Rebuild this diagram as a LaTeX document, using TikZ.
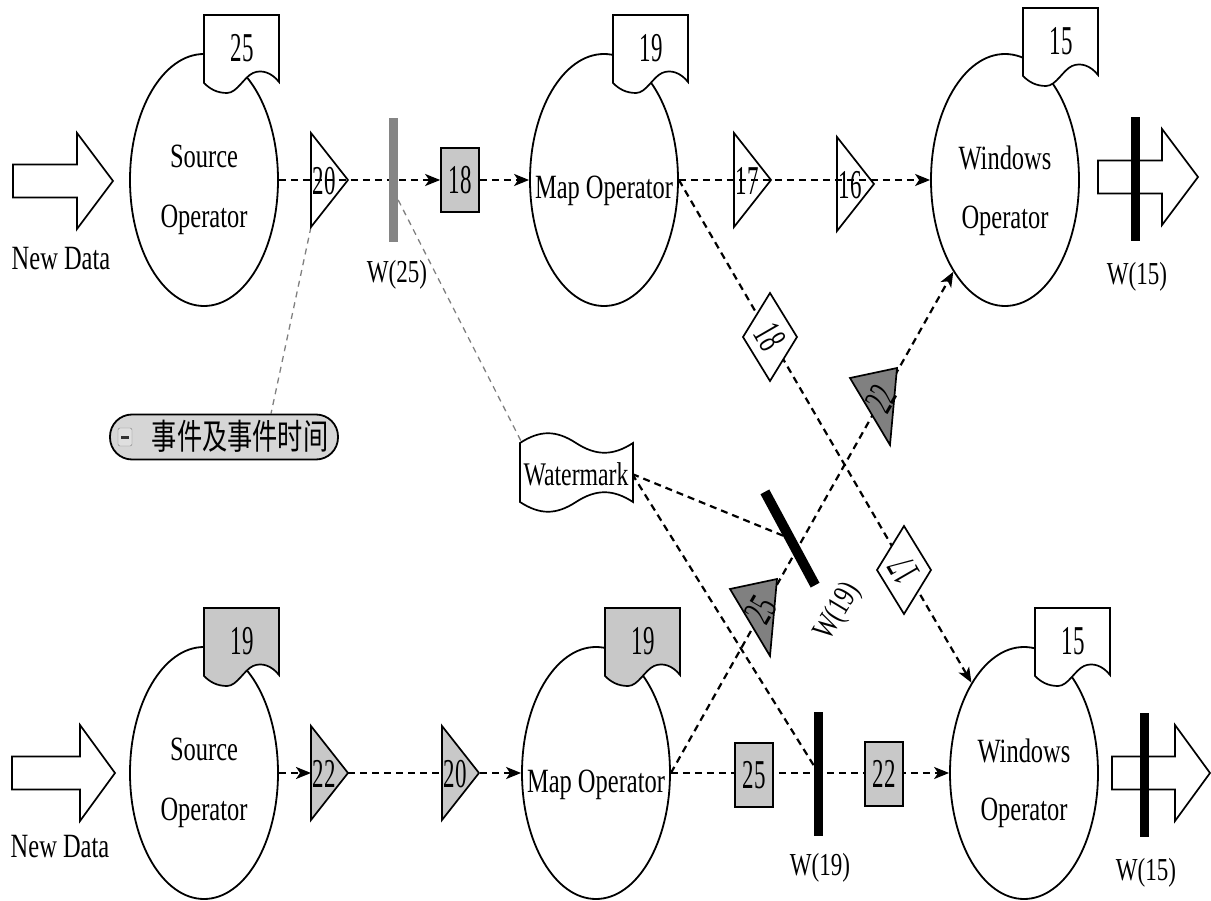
\documentclass[tikz,border=0pt]{standalone}
\usepackage{fontspec}
\setmainfont[FakeStretch=0.72]{Liberation Serif}
\newfontfamily\numfam[FakeStretch=0.56]{Liberation Serif}
\newfontfamily\cjkfam[FakeStretch=0.72]{Noto Sans CJK SC}
\usetikzlibrary{arrows.meta,shapes.geometric,calc}
\pgfdeclarelayer{background}
\pgfsetlayers{background,main}

\definecolor{lightbox}{HTML}{C8C8C8}
\definecolor{darktri}{HTML}{808080}
\definecolor{wbargrey}{HTML}{858585}
\definecolor{calloutfill}{HTML}{D6D6D6}

% document symbol (rectangle with a wavy lower edge) carrying a number
\newcommand\docnote[5]{%
  \begin{scope}[shift={(#2,#3)}]
    \filldraw[shape line, fill=#4] (0,0) -- (75,0) -- (75,67)
      .. controls (68,58) and (58,54) .. (49,58)
      .. controls (40,62) and (33,78) .. (23,78)
      .. controls (13,78) and (6,74) .. (0,68) -- cycle;
    \node[numtext] (#1) at (38,33) {#5};
  \end{scope}}

% right-pointing event triangle on a stream
\newcommand\flowtri[5]{%
  \begin{scope}[shift={(#2,#3)}]
    \draw[shape line, fill=#4] (0,-47) -- (37,0) -- (0,47) -- cycle;
    \coordinate (#1-w) at (0,0);
    \coordinate (#1-tip) at (37,0);
    \coordinate (#1-b) at (0,47);
    \node[numtext] (#1) at (13,1) {#5};
  \end{scope}}

% event in flight on a crossing stream (diamond)
\newcommand\tagdiamond[5]{%
  \begin{scope}[shift={(#2,#3)}]
    \draw[shape line, fill=white] (0,-44) -- (27,0) -- (0,44) -- (-27,0) -- cycle;
    \node[numtext, rotate=#4] (#1) at (0,0) {#5};
  \end{scope}}

% slanted dark event triangle on a crossing stream
\newcommand\slanttri[4]{%
  \begin{scope}[shift={(#2,#3)}]
    \draw[shape line, fill=darktri] (-29,-19) -- (18,-29) -- (11,48) -- cycle;
    \node[numtext, rotate=60] (#1) at (2,2) {#4};
  \end{scope}}

% hollow block arrow: x start, y centre, shaft length, head length
\newcommand\blockarrow[4]{%
  \draw[shape line, fill=white] (#1,#2-16.5) -- (#1+#3,#2-16.5) -- (#1+#3,#2-48)
    -- (#1+#3+#4,#2) -- (#1+#3,#2+48) -- (#1+#3,#2+16.5) -- (#1,#2+16.5) -- cycle;}

\begin{document}
\begin{tikzpicture}[x=1pt,y=-1pt,
  shape line/.style={line width=1.7pt, draw=black},
  opnode/.style={ellipse, draw, line width=1.8pt, fill=white,
    minimum width=148pt, minimum height=252pt, inner sep=0pt},
  optext/.style={font=\fontsize{34}{34}\selectfont, inner sep=0pt, anchor=base},
  wtext/.style={font=\fontsize{32}{32}\selectfont, inner sep=0pt, anchor=base},
  numtext/.style={font=\numfam\fontsize{41}{41}\selectfont, inner sep=0pt},
  gbox/.style={rectangle, draw, line width=1.7pt, fill=lightbox,
    minimum width=38pt, minimum height=64pt, inner sep=0pt,
    font=\numfam\fontsize{41}{41}\selectfont},
  barnode/.style={rectangle, draw=none, minimum width=9pt, minimum height=124pt, inner sep=0pt},
  flow/.style={line width=2.2pt, dash pattern=on 7pt off 5pt},
  tipped/.style={-{Stealth[length=15pt,width=12pt,inset=4pt]}},
  hint/.style={line width=1.3pt, draw=gray, dash pattern=on 6pt off 5pt}]
\useasboundingbox (0,0) rectangle (1211,901);

% operators
\node[opnode] (srcT) at (204,180) {};
\node[opnode] (mapT) at (604,180) {};
\node[opnode] (winT) at (1005,180) {};
\node[opnode] (srcB) at (204,773) {};
\node[opnode] (mapB) at (596,773) {};
\node[opnode] (winB) at (1024,773) {};

% current watermark of each operator
\docnote{dsT}{204}{15}{white}{25}
\docnote{dmT}{613}{15}{white}{19}
\docnote{dwT}{1023}{8}{white}{15}
\docnote{dsB}{204}{608}{lightbox}{19}
\docnote{dmB}{605}{608}{lightbox}{19}
\docnote{dwB}{1035}{608}{white}{15}

% operator names
\node[optext] (lsT1) at (204,168) {Source};
\node[optext] (lsT2) at (204,228) {Operator};
\node[optext] (lmT) at (604,199) {Map Operator};
\node[optext] (lwT1) at (1005,170) {Windows};
\node[optext] (lwT2) at (1005,229) {Operator};
\node[optext] (lsB1) at (204,760) {Source};
\node[optext] (lsB2) at (204,820) {Operator};
\node[optext] (lmB) at (596,792) {Map Operator};
\node[optext] (lwB1) at (1024,762) {Windows};
\node[optext] (lwB2) at (1024,820) {Operator};

% incoming and outgoing data
\blockarrow{13}{181}{64}{36}
\blockarrow{12}{773}{68}{35}
\blockarrow{1098}{177}{64}{36}
\blockarrow{1112}{773}{63}{35}
\node[optext] (ndT) at (61,270) {New Data};
\node[optext] (ndB) at (60,857) {New Data};

% events on the streams
\flowtri{t20T}{311}{180}{none}{20}
\flowtri{t17T}{734}{180}{none}{17}
\flowtri{t16T}{837}{184}{none}{16}
\flowtri{t22B}{311}{773}{lightbox}{22}
\flowtri{t20B}{442}{773}{lightbox}{20}
\node[gbox] (b18) at (460,180) {18};
\node[gbox] (b25) at (754,775) {25};
\node[gbox] (b22) at (884,774) {22};
\tagdiamond{d18}{770}{337}{-60}{18}
\tagdiamond{d17}{904}{570}{120}{17}
\slanttri{s22}{879}{397}{22}
\slanttri{s25}{759}{608}{25}

% watermarks in the streams
\node[barnode, fill=wbargrey] (w25) at (393.5,180) {};
\node[barnode, fill=black] (w15T) at (1135.5,179.5) {};
\node[barnode, fill=black] (w19B) at (818.5,773.5) {};
\node[barnode, fill=black] (w15B) at (1144,775) {};
\node[rectangle, fill=black, minimum width=106pt, minimum height=10pt,
  inner sep=0pt, rotate=-61.7] (w19R) at (790,538.5) {};
\node[wtext] (lw25) at (397,283) {W(25)};
\node[wtext] (lw15T) at (1137,285) {W(15)};
\node[wtext] (lw19B) at (820,875) {W(19)};
\node[wtext] (lw15B) at (1146,880) {W(15)};
\node[font=\fontsize{32}{32}\selectfont, inner sep=0pt, rotate=59] (lw19R) at (838,612) {W(19)};

% watermark banner
\draw[shape line, fill=white] (520,443) .. controls (540,430) and (556,430) .. (576,443)
  .. controls (596,456) and (613,456) .. (633,443) -- (633,502)
  .. controls (613,489) and (596,489) .. (576,502)
  .. controls (556,515) and (540,515) .. (520,502) -- cycle;
\node[font=\fontsize{33}{33}\selectfont, inner xsep=3.5pt, inner ysep=0pt] (wmk) at (576,474) {Watermark};
\coordinate (wmk-nw) at (522,443);

% event / event-time callout
\node[rectangle, rounded corners=22pt, draw, line width=1.8pt, fill=calloutfill,
  minimum width=228pt, minimum height=45pt] (callout) at (224,437) {};
\node[draw=gray, fill=gray!25, rounded corners=2pt, minimum width=14pt,
  minimum height=18pt, inner sep=0pt] (icon) at (125,437) {};
\node[fill=black!80, minimum width=8pt, minimum height=3pt, inner sep=0pt] (iconbar) at (icon) {};
\node[font=\cjkfam\fontsize{35}{35}\selectfont, inner sep=0pt] (ctext) at (240,436) {事件及事件时间};

% streams
\begin{pgfonlayer}{background}
  \draw[flow, tipped] (srcT.east) -- (b18.west);
  \draw[flow, tipped] (b18.east) -- (mapT.west);
  \draw[flow, tipped] (mapT.east) -- (winT.west);
  \draw[flow, tipped] (mapT.east) -- (winB);
  \draw[flow, tipped] (srcB.east) -- (t22B-w);
  \draw[flow, tipped] (t22B-tip) -- (mapB.west);
  \draw[flow, tipped] (mapB.east) -- (winB.west);
  \draw[flow, tipped] (mapB.east) -- (winT);
  \draw[flow] (wmk.east) -- (w19R.center);
  \draw[flow] (wmk.east) -- ([yshift=8pt]w19B.west);
  \draw[hint] ([yshift=-20pt]w25.east) -- (wmk-nw);
  \draw[hint] (t20T-b) -- ([xshift=47pt]callout.north);
\end{pgfonlayer}
\end{tikzpicture}
\end{document}
